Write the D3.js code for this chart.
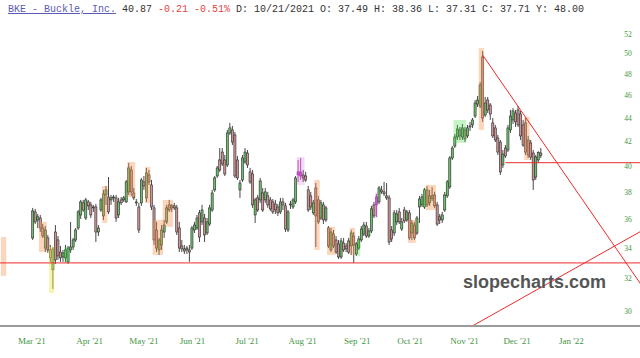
<!DOCTYPE html>
<html><head><meta charset="utf-8">
<script src="https://cdn.jsdelivr.net/npm/d3@7"></script>
<style>html,body{margin:0;padding:0;background:#fff;}svg{display:block;}</style>
</head><body>
<svg id="chart" width="640" height="358"></svg>
<script>
// ---------- DATA ----------
const dates = ["2021-03-09","2021-03-10","2021-03-11","2021-03-12","2021-03-15","2021-03-16","2021-03-17","2021-03-18","2021-03-19","2021-03-22","2021-03-23","2021-03-24","2021-03-25","2021-03-26","2021-03-29","2021-03-30","2021-03-31",
"2021-04-01","2021-04-05","2021-04-06","2021-04-07","2021-04-08","2021-04-09","2021-04-12","2021-04-13","2021-04-14","2021-04-15","2021-04-16","2021-04-19","2021-04-20","2021-04-21","2021-04-22","2021-04-23","2021-04-26","2021-04-27","2021-04-28","2021-04-29","2021-04-30",
"2021-05-03","2021-05-04","2021-05-05","2021-05-06","2021-05-07","2021-05-10","2021-05-11","2021-05-12","2021-05-13","2021-05-14","2021-05-17","2021-05-18","2021-05-19","2021-05-20","2021-05-21","2021-05-24","2021-05-25","2021-05-26","2021-05-27","2021-05-28",
"2021-06-01","2021-06-02","2021-06-03","2021-06-04","2021-06-07","2021-06-08","2021-06-09","2021-06-10","2021-06-11","2021-06-14","2021-06-15","2021-06-16","2021-06-17","2021-06-18","2021-06-21","2021-06-22","2021-06-23","2021-06-24","2021-06-25","2021-06-28","2021-06-29","2021-06-30",
"2021-07-01","2021-07-02","2021-07-06","2021-07-07","2021-07-08","2021-07-09","2021-07-12","2021-07-13","2021-07-14","2021-07-15","2021-07-16","2021-07-19","2021-07-20","2021-07-21","2021-07-22","2021-07-23","2021-07-26","2021-07-27","2021-07-28","2021-07-29","2021-07-30",
"2021-08-02","2021-08-03","2021-08-04","2021-08-05","2021-08-06","2021-08-09","2021-08-10","2021-08-11","2021-08-12","2021-08-13","2021-08-16","2021-08-17","2021-08-18","2021-08-19","2021-08-20","2021-08-23","2021-08-24","2021-08-25","2021-08-26","2021-08-27","2021-08-30","2021-08-31",
"2021-09-01","2021-09-02","2021-09-03","2021-09-07","2021-09-08","2021-09-09","2021-09-10","2021-09-13","2021-09-14","2021-09-15","2021-09-16","2021-09-17","2021-09-20","2021-09-21","2021-09-22","2021-09-23","2021-09-24","2021-09-27","2021-09-28","2021-09-29","2021-09-30",
"2021-10-01","2021-10-04","2021-10-05","2021-10-06","2021-10-07","2021-10-08","2021-10-11","2021-10-12","2021-10-13","2021-10-14","2021-10-15","2021-10-18","2021-10-19","2021-10-20","2021-10-21","2021-10-22","2021-10-25","2021-10-26","2021-10-27","2021-10-28","2021-10-29",
"2021-11-01","2021-11-02","2021-11-03","2021-11-04","2021-11-05","2021-11-08","2021-11-09","2021-11-10","2021-11-11","2021-11-12","2021-11-15","2021-11-16","2021-11-17","2021-11-18","2021-11-19","2021-11-22","2021-11-23","2021-11-24","2021-11-26","2021-11-29","2021-11-30",
"2021-12-01","2021-12-02","2021-12-03","2021-12-06","2021-12-07","2021-12-08","2021-12-09","2021-12-10","2021-12-13","2021-12-14","2021-12-15","2021-12-16","2021-12-17","2021-12-20","2021-12-21","2021-12-22"];

const opens = [34.68,36.52,35.94,36.08,35.37,33.99,34.68,33.86,32.55,35.09,34.54,33.72,33.39,33.33,33.07,33.86,34.06,
34.54,35.37,36.30,37.18,36.08,37.25,37.03,36.88,36.88,35.09,36.66,36.23,37.77,37.62,37.40,37.55,37.55,36.30,37.40,37.40,37.25,
38.00,39.69,37.92,37.25,36.88,37.18,38.76,37.55,39.30,38.53,36.81,35.23,33.86,34.20,35.09,35.80,37.03,36.81,36.96,36.81,
35.37,34.13,33.93,33.86,33.86,33.99,35.23,35.37,36.45,35.80,36.08,35.02,35.65,36.66,38.15,39.22,40.49,41.13,40.49,40.09,42.72,42.98,
42.55,40.49,38.15,38.91,40.33,41.05,39.54,39.38,36.30,37.55,37.40,37.92,37.40,37.70,37.40,37.25,37.10,36.88,36.52,37.25,36.96,
35.23,37.03,36.88,37.25,39.30,39.54,39.30,39.22,38.15,37.70,36.45,38.30,37.40,36.08,37.03,35.94,35.37,33.86,34.95,34.54,34.27,33.39,
34.33,34.13,34.47,34.13,34.81,33.59,33.99,34.54,34.95,35.51,34.81,35.16,37.03,37.03,37.25,38.15,38.00,37.70,37.55,35.23,35.02,
35.80,36.52,35.30,36.66,35.94,36.45,35.02,35.58,35.02,36.88,37.03,36.88,38.15,37.18,37.49,37.77,37.03,36.16,35.94,36.66,37.70,
38.38,40.65,41.63,42.38,42.98,42.38,42.98,42.47,43.23,43.41,44.18,45.25,45.07,49.68,44.27,45.61,45.16,43.58,43.15,42.30,41.96,
40.09,41.46,41.30,42.98,43.84,44.45,44.72,44.36,43.41,43.58,42.13,41.88,41.05,39.14,40.49,41.05];

const highs = [36.81,36.74,36.37,36.30,35.65,35.51,34.88,34.20,34.06,35.58,34.81,34.13,33.86,34.20,34.13,35.80,34.68,
35.37,36.66,37.40,37.40,37.55,37.40,37.25,37.03,37.10,35.58,37.55,38.15,38.45,39.14,37.77,37.77,37.77,37.55,37.62,37.70,38.91,
40.25,40.01,38.30,37.47,37.18,39.07,39.22,39.85,39.69,38.91,37.03,35.80,34.68,35.58,35.94,37.03,37.40,37.10,37.18,37.03,
35.80,34.54,34.20,34.13,34.20,35.51,35.80,36.30,36.66,37.03,36.37,36.08,37.03,38.15,39.22,40.01,41.46,41.46,40.89,42.98,43.58,43.32,
42.81,40.81,38.91,40.89,41.46,41.30,39.85,39.69,37.55,37.77,39.07,38.30,38.30,38.00,37.62,37.47,37.40,37.10,37.55,37.55,37.18,
36.66,37.33,37.55,39.22,40.49,40.65,39.69,39.54,38.45,38.00,37.40,38.68,37.70,37.40,37.25,36.96,35.51,35.37,35.23,34.81,34.54,34.68,
34.68,34.33,34.68,35.23,35.09,34.40,34.81,35.51,35.80,35.80,35.37,36.96,37.25,37.85,38.45,38.45,38.76,38.68,37.77,35.51,36.66,
36.66,36.81,36.08,36.88,36.66,36.66,35.94,35.80,36.23,37.70,37.85,38.30,38.45,38.15,38.36,38.00,37.25,36.37,36.52,38.00,38.91,
40.81,41.63,42.64,43.41,43.23,43.49,43.23,43.41,43.67,44.01,45.61,45.98,47.27,50.27,45.89,45.89,45.34,44.01,43.41,42.55,42.13,
41.30,41.71,43.41,44.72,44.89,44.72,45.07,44.63,43.84,44.01,42.47,42.13,41.30,40.89,41.20,41.46];

const lows = [34.54,35.65,35.37,35.09,34.68,33.72,33.66,33.07,31.34,32.94,33.20,33.07,33.07,33.07,32.94,33.66,33.86,
34.40,35.23,36.01,36.52,35.94,36.66,36.08,36.52,34.40,34.81,36.52,35.94,37.03,36.37,37.03,37.25,35.80,36.08,37.03,37.25,37.18,
37.77,37.70,37.40,36.96,35.02,36.96,38.15,37.25,38.53,36.66,34.20,33.72,33.52,33.86,34.68,35.65,36.52,36.52,36.66,34.88,
33.72,33.72,33.59,33.59,33.07,33.86,35.02,35.23,34.40,35.58,34.40,34.88,35.51,36.52,38.00,39.07,39.54,40.01,39.22,39.93,42.55,41.71,
39.07,38.91,37.55,38.76,40.17,39.85,38.61,36.81,35.72,36.52,37.18,36.52,37.18,36.81,36.59,36.37,36.37,36.23,36.37,36.66,35.09,
35.09,36.74,36.74,37.10,38.76,38.91,38.76,38.76,36.52,36.66,36.30,34.06,35.65,35.94,35.65,35.80,33.99,33.72,33.99,33.59,33.26,33.26,
33.72,33.72,33.59,33.52,33.00,33.46,33.86,34.40,34.81,34.68,34.68,35.02,36.08,36.16,37.10,37.85,37.70,37.40,34.20,34.40,34.81,
35.58,35.65,35.16,35.72,35.80,34.54,34.54,34.54,34.88,35.72,36.88,36.74,36.88,36.96,37.31,36.81,35.51,35.65,35.72,36.52,37.55,
38.23,40.49,41.46,42.13,42.13,42.13,41.96,42.30,42.89,43.15,44.01,44.98,44.89,43.67,44.10,44.45,43.84,42.30,41.96,40.89,39.30,
39.85,40.65,41.13,42.72,43.49,43.23,43.23,42.13,41.55,40.89,40.65,40.49,38.15,38.91,40.25,40.65];

const closes = [36.59,35.80,36.16,35.37,34.81,35.23,33.86,33.33,33.93,33.20,33.46,33.33,33.66,33.86,33.99,34.06,34.54,
35.23,36.52,37.25,36.66,37.40,36.96,36.30,36.81,35.09,35.37,37.40,37.85,38.15,36.52,37.55,37.62,36.08,37.25,37.18,37.55,38.76,
39.85,38.00,37.55,37.18,35.23,38.91,38.45,39.46,38.76,36.88,34.54,33.99,34.54,35.23,35.58,36.81,36.66,36.96,36.81,35.09,
33.99,33.93,33.79,33.99,33.72,35.37,35.58,36.08,34.74,36.66,34.88,35.80,36.81,37.92,39.07,39.85,39.69,40.17,39.38,42.72,43.15,41.96,
39.22,39.07,38.68,40.65,41.13,40.09,38.76,37.03,37.40,36.66,38.84,36.66,38.00,37.03,36.74,36.52,36.66,36.45,37.25,37.03,35.30,
36.52,37.10,37.40,39.07,39.54,39.22,39.07,38.91,36.66,36.88,37.18,36.23,35.80,37.18,35.94,36.81,34.13,35.09,34.13,33.72,33.39,34.47,
33.86,33.93,33.72,35.02,34.20,34.27,34.61,35.30,35.58,34.81,35.16,36.74,36.23,37.62,38.30,38.00,37.85,37.55,34.40,34.61,36.45,
36.37,35.80,35.80,35.87,36.52,34.68,35.72,34.68,36.08,37.47,37.62,38.15,37.03,37.70,37.71,36.96,35.65,35.94,36.30,37.77,38.76,
40.65,41.46,42.38,43.06,42.47,43.15,42.21,43.15,43.32,43.84,45.34,45.61,46.99,44.01,45.34,44.72,44.36,42.47,42.13,41.13,39.54,
40.97,40.81,43.15,44.18,44.63,43.67,43.41,42.47,41.71,41.13,40.89,40.73,38.91,40.73,41.08,40.87];

const purpleDates = ["2021-08-06","2021-08-09","2021-09-21"];

// highlight boxes: first date, last date, top price, bottom price, kind
const hlFrom = ["2021-02-19","2021-03-12","2021-03-18","2021-03-26","2021-04-19","2021-05-03","2021-05-12","2021-05-17","2021-05-21","2021-08-06","2021-08-17","2021-08-24","2021-09-07","2021-09-10","2021-09-21","2021-10-08","2021-10-18","2021-10-19","2021-11-03","2021-11-17","2021-12-14"];
const hlTo   = ["2021-02-22","2021-03-16","2021-03-19","2021-03-29","2021-04-20","2021-05-05","2021-05-13","2021-05-20","2021-05-26","2021-08-10","2021-08-18","2021-08-26","2021-09-08","2021-09-10","2021-09-21","2021-10-12","2021-10-18","2021-10-22","2021-11-09","2021-11-18","2021-12-15"];
const hlTop  = [34.75,35.80,34.07,34.07,38.45,40.33,39.93,35.94,37.40,40.73,38.91,35.45,35.38,34.45,37.95,35.94,38.30,38.53,43.84,50.57,44.10];
const hlBot  = [32.16,33.73,31.09,33.00,35.73,37.62,37.17,33.53,35.45,38.53,33.86,33.53,33.53,33.45,36.10,34.34,36.88,36.66,41.88,42.98,40.49];
const hlKind = ["o","o","y","g","o","o","o","o","o","p","o","o","o","g","p","o","g","o","g","o","o"];

// trend lines: start date, start price, end date, end price
const lineFrom  = ["2021-11-18","2021-11-12","2021-12-02","2021-02-16"];
const lineFromP = [49.87, 29.12, 40.27, 33.00];
const lineTo    = ["2022-02-18","2022-02-18","2022-02-18","2022-02-18"];
const lineToP   = [31.53, 35.18, 40.27, 33.00];

const yTicks = [30,32,34,36,38,40,42,44,46,48,50,52];
const monthTicks = ["2021-03-01","2021-04-01","2021-05-03","2021-06-01","2021-07-01","2021-08-02","2021-09-01","2021-10-01","2021-11-01","2021-12-01","2022-01-03"];
const holidays = ["2021-04-02","2021-05-31","2021-07-05","2021-09-06","2021-11-25","2021-12-24","2022-01-17","2022-02-21"];

// ---------- SCALES ----------
const parse = d3.timeParse("%Y-%m-%d");
const fmt = d3.timeFormat("%Y-%m-%d");
const hol = new Set(holidays);
const sessions = d3.timeDay.range(parse("2021-02-16"), parse("2022-03-01"))
  .filter(d => d.getDay() !== 0 && d.getDay() !== 6 && !hol.has(fmt(d))).map(fmt);
const sIdx = new Map(sessions.map((d, i) => [d, i]));
const idx = s => sIdx.get(s);

const W = 640, H = 358, plotTop = 20, plotBottom = 325;
const x = d3.scaleLinear()
  .domain([idx(monthTicks[0]), idx(monthTicks[monthTicks.length - 1])])
  .range([17.5, 558.5]);
const y = d3.scaleLog().domain([29.17, 53.47]).range([plotBottom, plotTop]);
const step = x(1) - x(0);

const svg = d3.select("#chart");
svg.append("rect").attr("width", W).attr("height", H).attr("fill", "#fff");
svg.append("defs").append("clipPath").attr("id", "plot")
  .append("rect").attr("x", 0).attr("y", plotTop).attr("width", W).attr("height", plotBottom - plotTop);

const g = svg.append("g").attr("clip-path", "url(#plot)");

// candles
const candles = dates.map((d, i) => ({d, o: opens[i], h: highs[i], l: lows[i], c: closes[i]}));
const purple = new Set(purpleDates);
const bodyW = 2.1;
const cg = g.append("g");
cg.selectAll("line.wick").data(candles).join("line")
  .attr("x1", d => x(idx(d.d))).attr("x2", d => x(idx(d.d)))
  .attr("y1", d => y(d.h)).attr("y2", d => y(d.l))
  .attr("stroke", d => purple.has(d.d) ? "#b03ab0" : "#333").attr("stroke-width", 0.9);
cg.selectAll("rect.body").data(candles).join("rect")
  .attr("x", d => x(idx(d.d)) - bodyW / 2)
  .attr("y", d => y(Math.max(d.o, d.c)))
  .attr("width", bodyW)
  .attr("height", d => Math.max(0.8, Math.abs(y(d.o) - y(d.c))))
  .attr("fill", d => purple.has(d.d) ? "#cc55cc" : (d.c >= d.o ? "#6cbf6c" : "#cf9494"))
  .attr("stroke", d => purple.has(d.d) ? "#a030a0" : "#2a2a2a").attr("stroke-width", 0.6);

// highlight boxes
const hlFill = {o: "rgba(243,150,80,0.38)", y: "rgba(240,228,80,0.45)", g: "rgba(70,220,70,0.3)", p: "rgba(200,90,210,0.22)"};
g.append("g").selectAll("rect").data(hlFrom.map((f, i) => ({f, t: hlTo[i], top: hlTop[i], bot: hlBot[i], k: hlKind[i]})))
  .join("rect")
  .attr("x", d => x(idx(d.f)) - step * 0.55)
  .attr("y", d => y(d.top))
  .attr("width", d => x(idx(d.t)) - x(idx(d.f)) + step * 1.1)
  .attr("height", d => y(d.bot) - y(d.top))
  .attr("fill", d => hlFill[d.k]);

// trend lines
g.append("g").selectAll("line").data(lineFrom.map((f, i) => ({f, fp: lineFromP[i], t: lineTo[i], tp: lineToP[i]})))
  .join("line")
  .attr("x1", d => x(idx(d.f))).attr("y1", d => y(d.fp))
  .attr("x2", d => x(idx(d.t))).attr("y2", d => y(d.tp))
  .attr("stroke", "#ee2a2a").attr("stroke-width", 1);

// bottom axis line
svg.append("line").attr("x1", 0).attr("x2", W).attr("y1", plotBottom + 1).attr("y2", plotBottom + 1)
  .attr("stroke", "#9a9a9a").attr("stroke-width", 2);

// watermark
svg.append("text").attr("x", 463).attr("y", 288)
  .attr("font-family", "Liberation Sans, Arial, sans-serif").attr("font-weight", "bold")
  .attr("font-size", 18).attr("fill", "#555").text("slopecharts.com");

// y labels
svg.append("g").selectAll("text").data(yTicks).join("text")
  .attr("x", 628).attr("y", d => y(d)).attr("dy", "0.35em")
  .attr("text-anchor", "middle")
  .attr("font-family", "Liberation Serif, serif").attr("font-size", 7.5)
  .attr("fill", "#3f953f").text(d => d);

// x labels
const mfmt = d3.timeFormat("%b '%y");
svg.append("g").selectAll("text").data(monthTicks).join("text")
  .attr("x", d => x(idx(d)) + 0.5).attr("y", 344)
  .attr("font-family", "Liberation Serif, serif").attr("font-size", 9)
  .attr("fill", "#3f953f").text(d => mfmt(parse(d)));

// header
const hdr = svg.append("text").attr("x", 8).attr("y", 12)
  .attr("font-family", "Liberation Mono, monospace").attr("font-size", 10)
  .attr("xml:space", "preserve").style("white-space", "pre");
hdr.append("tspan").attr("fill", "#5a5ab8").attr("text-decoration", "underline").text("BKE - Buckle, Inc.");
hdr.append("tspan").attr("fill", "#333").text(" 40.87 ");
hdr.append("tspan").attr("fill", "#e04545").text("-0.21 -0.51%");
hdr.append("tspan").attr("fill", "#333").text(" D: 10/21/2021 O: 37.49 H: 38.36 L: 37.31 C: 37.71 Y: 48.00");
</script>
</body></html>
